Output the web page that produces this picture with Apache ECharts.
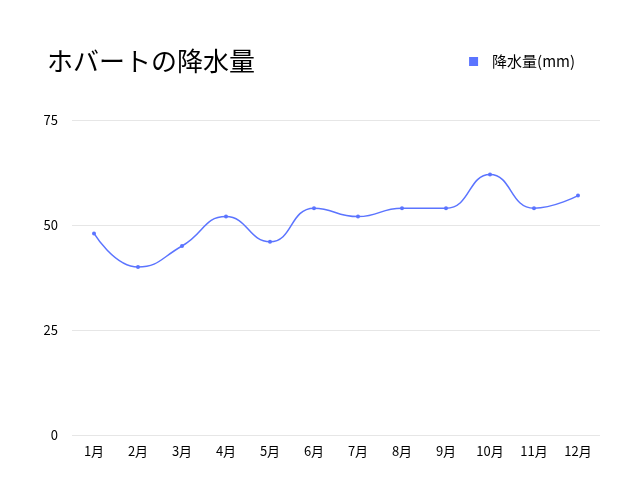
<!DOCTYPE html>
<html><head><meta charset="utf-8">
<script src="https://cdn.jsdelivr.net/npm/echarts@6/dist/echarts.min.js"></script>
<style>html,body{margin:0;padding:0;background:#fff}#c{width:640px;height:480px}</style>
</head><body><div id="c"></div>
<script>
const categories = ['1月','2月','3月','4月','5月','6月','7月','8月','9月','10月','11月','12月'];
const rainfall = [48, 40, 45, 52, 46, 54, 52, 54, 54, 62, 54, 57];
const seriesName = '降水量(mm)';
const titleText = 'ホバートの降水量';
const font = '"Noto Sans CJK JP","Noto Sans",sans-serif';
const chart = echarts.init(document.getElementById('c'));
chart.setOption({
  animation: false,
  backgroundColor: '#fff',
  textStyle: {fontFamily: font},
  title: {text: titleText, left: 42, top: 43, textStyle: {fontSize: 26, fontWeight: 'normal', color: '#000', fontFamily: font}},
  legend: {right: 60, top: 49, icon: 'rect', itemWidth: 9, itemHeight: 9, itemGap: 10,
    textStyle: {fontSize: 15, color: '#000', fontFamily: font, padding: [0, 0, 0, 9]}, data: [seriesName]},
  grid: {left: 72, right: 40, top: 120, bottom: 45},
  xAxis: {type: 'category', data: categories, boundaryGap: true,
    axisLine: {show: false}, axisTick: {show: false},
    axisLabel: {color: '#000', fontSize: 13, margin: 10, fontFamily: font}},
  yAxis: {type: 'value', min: 0, max: 75, interval: 25,
    axisLine: {show: false}, axisTick: {show: false},
    axisLabel: {color: '#000', fontSize: 13, margin: 14, fontFamily: font},
    splitLine: {lineStyle: {color: '#e6e6e6', width: 1}}},
  series: [{name: seriesName, type: 'line', data: rainfall, smooth: 0.5,
    symbol: 'circle', symbolSize: 4, color: '#5b74ff',
    lineStyle: {width: 1.5, color: '#5b74ff'}, itemStyle: {color: '#5b74ff'}}]
});
</script></body></html>
